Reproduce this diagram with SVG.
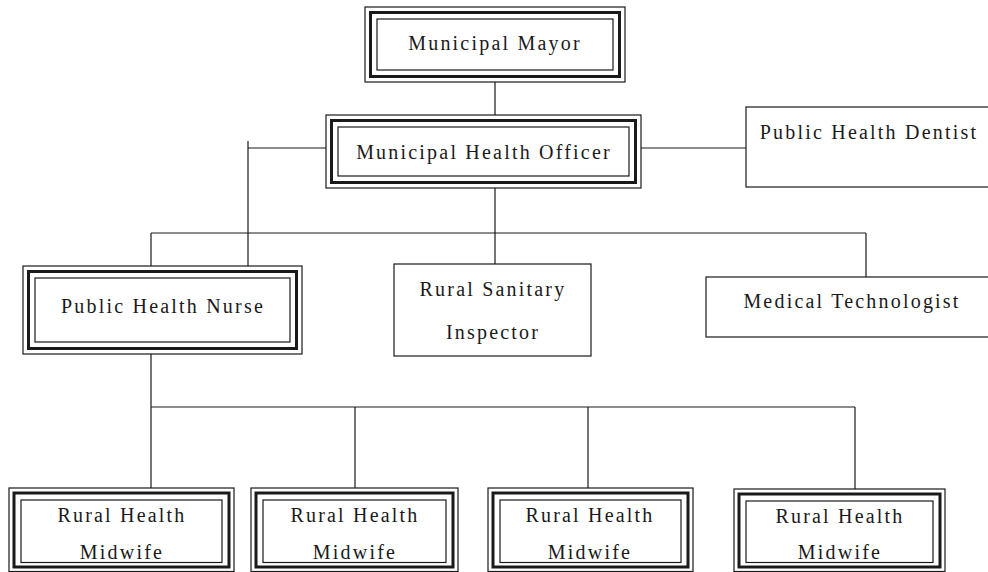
<svg xmlns="http://www.w3.org/2000/svg" width="988" height="572" viewBox="0 0 988 572">
<style>
.o{fill:#fff;stroke:#1a1a1a;stroke-width:1.2}
.t{fill:none;stroke:#1a1a1a;stroke-width:3}
.i{fill:none;stroke:#1a1a1a;stroke-width:1.2}
.b{fill:#fff;stroke:#1a1a1a;stroke-width:1.2}
.c{fill:none;stroke:#1a1a1a;stroke-width:1.2}
text{font-family:"Liberation Serif","Times New Roman",serif;font-size:20px;letter-spacing:2.2px;fill:#1a1a1a;text-anchor:middle}
</style>
<g id="connectors">
<path class="c" d="M495 82V115"/>
<path class="c" d="M248 148H326M248 141V266"/>
<path class="c" d="M641 148H746"/>
<path class="c" d="M495 188V233M151 233H866M151 233V266M495 233V264M866 233V277"/>
<path class="c" d="M151 354V407H855M151 407V488M355 407V488M588 407V488M855 407V489"/>
</g>
<g id="mayor">
<rect class="o" x="365" y="7" width="260" height="75"/>
<rect class="t" x="370.5" y="12.5" width="249" height="64"/>
<rect class="i" x="377" y="19" width="236" height="51"/>
<text x="495" y="50">Municipal Mayor</text>
</g>
<g id="officer">
<rect class="o" x="326" y="115" width="315" height="73"/>
<rect class="t" x="331.5" y="120.5" width="304" height="62"/>
<rect class="i" x="338" y="127" width="291" height="49"/>
<text x="484" y="159">Municipal Health Officer</text>
</g>
<g id="dentist">
<rect class="b" x="746" y="107" width="250" height="80"/>
<text x="869" y="139">Public Health Dentist</text>
</g>
<g id="nurse">
<rect class="o" x="23" y="266" width="279" height="88"/>
<rect class="t" x="28.5" y="271.5" width="268" height="77"/>
<rect class="i" x="35" y="278" width="255" height="64"/>
<text x="163" y="313">Public Health Nurse</text>
</g>
<g id="sanitary">
<rect class="b" x="394" y="264" width="197" height="92"/>
<text x="493" y="296">Rural Sanitary</text>
<text x="493" y="339">Inspector</text>
</g>
<g id="medtech">
<rect class="b" x="706" y="277" width="290" height="60"/>
<text x="852" y="308">Medical Technologist</text>
</g>
<g id="midwife1">
<rect class="o" x="9" y="488" width="225" height="83.5"/>
<rect class="t" x="14" y="493" width="215" height="74"/>
<rect class="i" x="21" y="500" width="201" height="62.5"/>
<text x="122" y="522">Rural Health</text>
<text x="122" y="559">Midwife</text>
</g>
<g id="midwife2">
<rect class="o" x="251" y="488" width="207" height="83.5"/>
<rect class="t" x="256" y="493" width="197" height="74"/>
<rect class="i" x="263" y="500" width="183" height="62.5"/>
<text x="355" y="522">Rural Health</text>
<text x="355" y="559">Midwife</text>
</g>
<g id="midwife3">
<rect class="o" x="488" y="488" width="205" height="83.5"/>
<rect class="t" x="493" y="493" width="195" height="74"/>
<rect class="i" x="500" y="500" width="181" height="62.5"/>
<text x="590" y="522">Rural Health</text>
<text x="590" y="559">Midwife</text>
</g>
<g id="midwife4">
<rect class="o" x="734" y="489" width="211" height="82.5"/>
<rect class="t" x="739" y="494" width="201" height="73"/>
<rect class="i" x="746" y="501" width="187" height="61.5"/>
<text x="840" y="523">Rural Health</text>
<text x="840" y="559">Midwife</text>
</g>
</svg>
